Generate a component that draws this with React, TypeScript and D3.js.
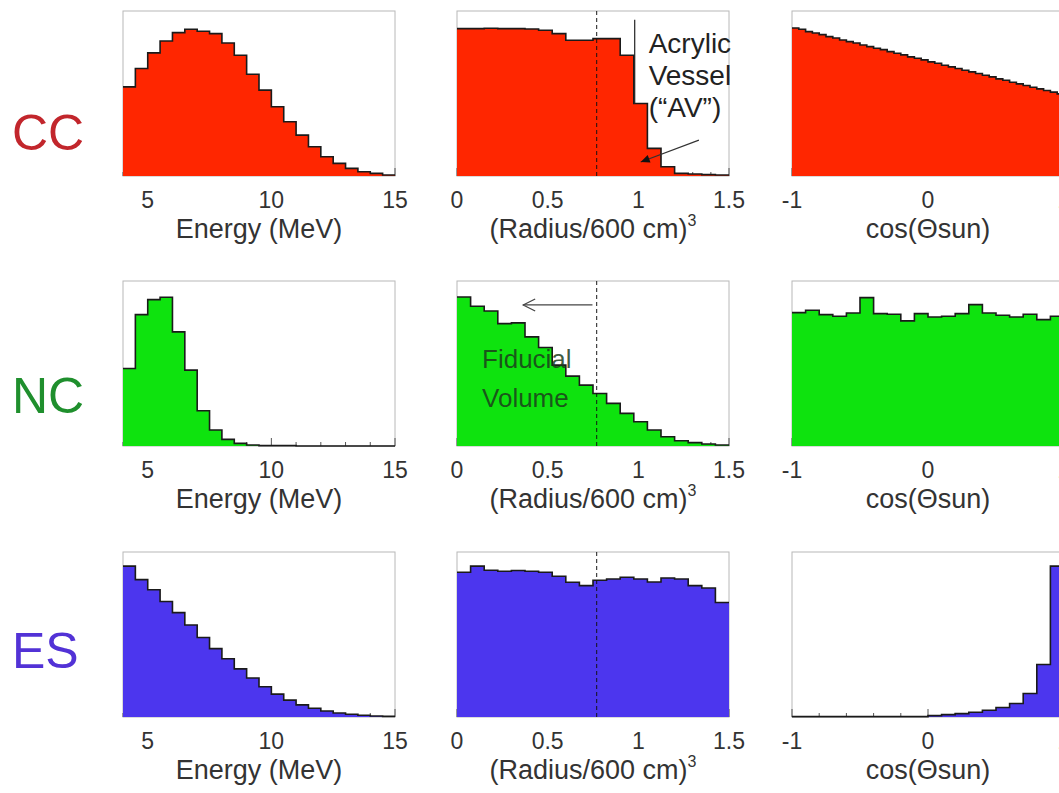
import React, { useEffect, useRef } from 'react';
import * as d3 from 'd3';

// row labels and colours
const rowNames = ['CC', 'NC', 'ES'];
const rowLabelColors = ['#c2262c', '#1f8f2d', '#5232d6'];
const fillColors = ['#ff2600', '#0ee30e', '#4c36ee'];
const rowYMax = [496, 496, 490];

// axis ticks
const energyTicks = [5, 10, 15];
const radiusTicks = [0, 0.5, 1, 1.5];
const cosTicks = [-1, 0, 1];

// energy spectra, 0.5 MeV bins from 4 to 15 MeV
const ccEnergy = [268, 323, 370, 406, 431, 441, 435, 428, 400, 363, 306, 258, 208, 163, 123, 88, 58, 38, 23, 13, 8, 3];
const ncEnergy = [233, 395, 440, 447, 343, 228, 106, 48, 20, 8, 3, 1, 1, 1, 0, 0, 0, 0, 0, 0, 0, 0];
const esEnergy = [448, 408, 378, 343, 310, 273, 236, 203, 173, 143, 116, 90, 68, 50, 36, 26, 18, 12, 8, 5, 3, 2];

// radial distributions, bins of 0.075 in (R/600)^3
const ccRadius = [443, 443, 444, 443, 443, 442, 438, 428, 408, 408, 413, 413, 363, 218, 83, 28, 8, 6, 4, 3];
const ncRadius = [448, 420, 406, 368, 370, 328, 296, 243, 210, 183, 158, 128, 98, 73, 48, 28, 16, 10, 6, 3];
const esRadius = [430, 448, 436, 433, 435, 433, 430, 418, 400, 390, 406, 410, 415, 410, 401, 413, 410, 390, 383, 340];

// angular distributions
const ccCos = [445, 441, 434, 430, 425, 419, 415, 409, 404, 400, 394, 389, 384, 380, 374, 369, 364, 358, 354, 349,
  343, 339, 333, 328, 323, 318, 313, 308, 303, 298, 292, 288, 282, 277, 272, 267, 262, 257, 252, 247];
const ncCos = [401, 408, 395, 390, 400, 446, 398, 396, 376, 398, 388, 390, 398, 425, 400, 393, 388, 396, 380, 390];
const esCos = [1, 1, 1, 1, 1, 1, 1, 1, 1, 1, 4, 7, 10, 14, 20, 28, 40, 70, 156, 448];

const fiducialCut = 0.77;
const vesselRadius = 0.98;

const App = () => {
  const ref = useRef<SVGSVGElement | null>(null);

  useEffect(() => {
    if (!ref.current) return;
    const svg = d3.select(ref.current);
    svg.selectAll('*').remove();

    const font = '"Liberation Sans", Arial, Helvetica, sans-serif';
    const colLefts = [123, 457, 792];
    const rowTops = [11, 281, 552];
    const panelW = 272;
    const panelH = 165;
    const labelBaselines = [150, 413, 668];

    const columns = [
      { domain: [4, 15], ticks: energyTicks, minor: 1, title: 'Energy (MeV)', sup: '' },
      { domain: [0, 1.5], ticks: radiusTicks, minor: 0.1, title: '(Radius/600 cm)', sup: '3' },
      { domain: [-1, 1], ticks: cosTicks, minor: 0.2, title: 'cos(Θsun)', sup: '' },
    ];
    const hists = [
      [ccEnergy, ccRadius, ccCos],
      [ncEnergy, ncRadius, ncCos],
      [esEnergy, esRadius, esCos],
    ];

    rowNames.forEach((name, r) => {
      const top = rowTops[r];
      const bottom = top + panelH;

      svg.append('text')
        .attr('x', 12)
        .attr('y', labelBaselines[r])
        .attr('fill', rowLabelColors[r])
        .style('font-family', font)
        .style('font-size', '50px')
        .text(name);

      columns.forEach((col, c) => {
        const left = colLefts[c];
        const x = d3.scaleLinear().domain(col.domain).range([left, left + panelW]);
        const y = d3.scaleLinear().domain([0, rowYMax[r]]).range([bottom, top]);
        const g = svg.append('g');

        // frame
        g.append('rect')
          .attr('x', left).attr('y', top)
          .attr('width', panelW).attr('height', panelH)
          .attr('fill', 'none')
          .attr('stroke', '#b8b8b8')
          .attr('stroke-width', 1);

        // inward ticks (drawn under the fill)
        const minorTicks = d3.range(col.domain[0], col.domain[1] + 1e-9, col.minor);
        minorTicks.forEach(t => {
          const isMajor = col.ticks.some(m => Math.abs(m - t) < 1e-6);
          g.append('line')
            .attr('x1', x(t)).attr('x2', x(t))
            .attr('y1', bottom).attr('y2', bottom - (isMajor ? 8 : 4))
            .attr('stroke', '#555')
            .attr('stroke-width', 1);
        });

        // histogram
        const values = hists[r][c];
        const w = (col.domain[1] - col.domain[0]) / values.length;
        const pts: [number, number][] = [];
        values.forEach((v, i) => {
          pts.push([col.domain[0] + i * w, v]);
          pts.push([col.domain[0] + (i + 1) * w, v]);
        });
        const area = d3.area<[number, number]>()
          .x(d => x(d[0]))
          .y0(bottom)
          .y1(d => y(d[1]));
        const line = d3.line<[number, number]>()
          .x(d => x(d[0]))
          .y(d => y(d[1]));
        g.append('path').attr('d', area(pts) || '').attr('fill', fillColors[r]);
        g.append('path')
          .attr('d', line(pts) || '')
          .attr('fill', 'none')
          .attr('stroke', '#1a1a1a')
          .attr('stroke-width', 1.6);

        // tick labels
        col.ticks.forEach(t => {
          g.append('text')
            .attr('x', x(t))
            .attr('y', bottom + 32)
            .attr('text-anchor', 'middle')
            .attr('fill', '#333')
            .style('font-family', font)
            .style('font-size', '23px')
            .text(String(t));
        });

        // axis title
        const title = g.append('text')
          .attr('x', left + panelW / 2)
          .attr('y', bottom + 62)
          .attr('text-anchor', 'middle')
          .attr('fill', '#333')
          .style('font-family', font)
          .style('font-size', '27px');
        title.append('tspan').text(col.title);
        if (col.sup) {
          title.append('tspan').attr('dy', -12).style('font-size', '16px').text(col.sup);
        }

        if (c === 1) {
          // fiducial volume cut
          g.append('line')
            .attr('x1', x(fiducialCut)).attr('x2', x(fiducialCut))
            .attr('y1', top).attr('y2', bottom)
            .attr('stroke', '#111')
            .attr('stroke-opacity', 0.8)
            .attr('stroke-width', 1.2)
            .attr('stroke-dasharray', '4,3');
        }

        if (r === 0 && c === 1) {
          const binIdx = Math.floor((vesselRadius - col.domain[0]) / w);
          g.append('line')
            .attr('x1', x(vesselRadius)).attr('x2', x(vesselRadius))
            .attr('y1', y(470)).attr('y2', y(values[binIdx]))
            .attr('stroke', '#222')
            .attr('stroke-width', 1.2);
          ['Acrylic', 'Vessel', '(“AV”)'].forEach((s, i) => {
            g.append('text')
              .attr('x', x(1.057))
              .attr('y', y([370, 274, 177][i]))
              .attr('fill', '#222')
              .style('font-family', font)
              .style('font-size', '28px')
              .text(s);
          });
          // arrow to the vessel
          const ax0 = x(1.334), ay0 = y(108), ax1 = x(1.013), ay1 = y(42);
          g.append('line')
            .attr('x1', ax0).attr('y1', ay0).attr('x2', ax1).attr('y2', ay1)
            .attr('stroke', '#333').attr('stroke-width', 1.2);
          const ang = Math.atan2(ay1 - ay0, ax1 - ax0);
          const hl = 9, hw = 4;
          const bx = ax1 - hl * Math.cos(ang), by = ay1 - hl * Math.sin(ang);
          g.append('path')
            .attr('d', `M${ax1},${ay1}L${bx - hw * Math.sin(ang)},${by + hw * Math.cos(ang)}L${bx + hw * Math.sin(ang)},${by - hw * Math.cos(ang)}Z`)
            .attr('fill', '#111');
        }

        if (r === 1 && c === 1) {
          const ax0 = x(0.747), ax1 = x(0.365), ay = y(424);
          g.append('line')
            .attr('x1', ax0).attr('y1', ay).attr('x2', ax1).attr('y2', ay)
            .attr('stroke', '#444').attr('stroke-width', 1.2);
          g.append('path')
            .attr('d', `M${ax1 + 12},${ay - 6}L${ax1},${ay}L${ax1 + 12},${ay + 6}`)
            .attr('fill', 'none')
            .attr('stroke', '#444').attr('stroke-width', 1.2);
          ['Fiducial', 'Volume'].forEach((s, i) => {
            g.append('text')
              .attr('x', x(0.138))
              .attr('y', y([234, 117][i]))
              .attr('fill', '#1d3d1d')
              .attr('fill-opacity', 0.85)
              .style('font-family', font)
              .style('font-size', '26px')
              .text(s);
          });
        }
      });
    });
  }, []);

  return (
    <svg
      ref={ref}
      width={1059}
      height={793}
      style={{ position: 'absolute', left: 0, top: 0, background: '#fff' }}
    />
  );
};

export default App;
